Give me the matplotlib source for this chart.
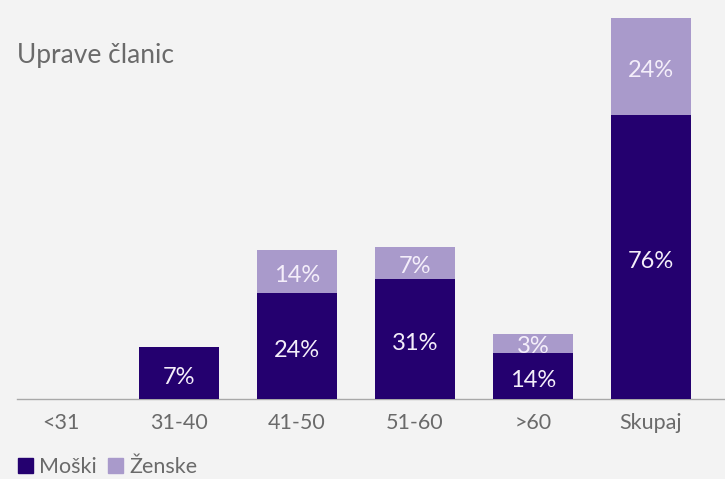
import numpy as np
import matplotlib
matplotlib.use('Agg')
import matplotlib.pyplot as plt
from matplotlib.patches import Patch

# data (bar heights, labels as printed)
categories = ['<31', '31-40', '41-50', '51-60', '>60', 'Skupaj']
moski = [0, 13.7, 27.9, 31.6, 12.2, 74.5]
zenske = [0, 0, 11.2, 8.4, 4.9, 25.5]
moski_labels = ['', '7%', '24%', '31%', '14%', '76%']
zenske_labels = ['', '', '14%', '7%', '3%', '24%']

dark = '#24006f'
light = '#a99acb'
bg = '#f3f3f3'
grey = '#6a6a6a'

plt.rcParams['font.family'] = ['Lato', 'DejaVu Sans']

fig = plt.figure(figsize=(7.25, 4.79), dpi=100, facecolor=bg)
ax = fig.add_axes([17/725, 80/479, 708/725, 381/479])
ax.set_facecolor(bg)

x = np.arange(len(categories))
w = 0.68
ax.bar(x, zenske, w, bottom=moski, color=light, zorder=2)
for i in range(len(x)):
    if zenske_labels[i]:
        ax.text(x[i], moski[i] + zenske[i] / 2 - 1.0, zenske_labels[i], ha='center', va='center',
                color='#f4eefa', fontsize=17, zorder=2.5)
ax.bar(x, moski, w, color=dark, zorder=3)
for i in range(len(x)):
    if moski_labels[i]:
        ax.text(x[i], moski[i] / 2 - 1.2, moski_labels[i], ha='center', va='center',
                color='#f4eefa', fontsize=17, zorder=4)

ax.set_xlim(-0.373, 5.627)
ax.set_ylim(0, 100)
ax.set_xticks(x)
ax.set_xticklabels(categories, fontsize=15.5, color=grey)
ax.tick_params(axis='x', length=0, pad=10)
ax.set_yticks([])
for s in ['top', 'right', 'left']:
    ax.spines[s].set_visible(False)
ax.spines['bottom'].set_color('#a8a8a8')
ax.spines['bottom'].set_linewidth(1)

fig.text(17/725, 1 - 55/479, 'Uprave članic', fontsize=19, color=grey, va='center', ha='left')

handles = [Patch(color=dark, label='Moški'), Patch(color=light, label='Ženske')]
fig.legend(handles=handles, loc='center left', bbox_to_anchor=(9/725, 1 - 467/479), ncol=2,
           frameon=False, fontsize=15.5, handlelength=0.7, handleheight=0.7, handletextpad=0.3,
           columnspacing=0.5, labelcolor=grey, borderaxespad=0)

fig.savefig('out.png', dpi=100, facecolor=bg)
